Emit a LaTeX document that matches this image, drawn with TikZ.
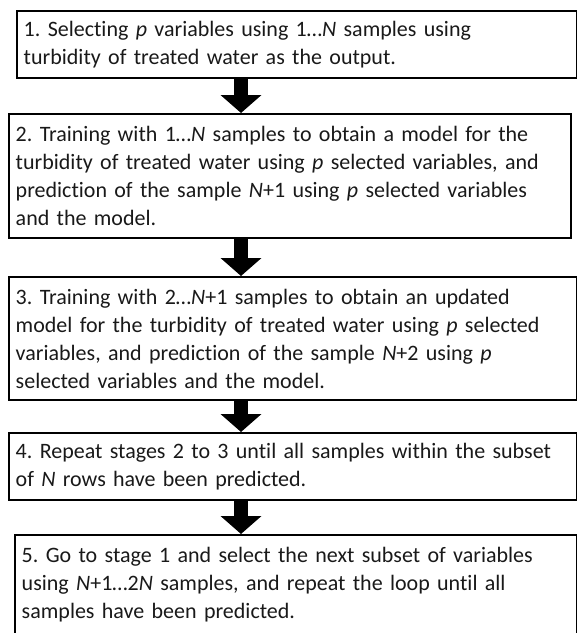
\documentclass[tikz,border=0pt]{standalone}
\usepackage{fontspec}
\setmainfont{Carlito}[Ligatures={NoCommon}]
\usetikzlibrary{arrows.meta, positioning}
\frenchspacing
\tikzset{
  stagebox/.style={draw=black, line width=1.6pt, anchor=north west, align=left,
    inner xsep=5pt, inner ysep=0pt, text=black!90,
    font=\fontsize{16.5}{21}\selectfont},
  downarrow/.style={line width=10.5pt, -{Triangle[length=13.5pt, width=30pt]}}
}

\begin{document}
\begin{tikzpicture}[x=0.75pt, y=-0.75pt]
  \useasboundingbox (0,0) rectangle (577,633);
  \coordinate (ax) at (241,0);
  \node[stagebox, text width=410pt, minimum height=50.25pt] (stage1) at (16,10)
    {1. Selecting \textit{p} variables using 1…\textit{N} samples using\\
     turbidity of treated water as the output.};
  \node[stagebox, text width=411.5pt, minimum height=93pt] (stage2) at (8,113)
    {2. Training with 1…\textit{N} samples to obtain a model for the\\
     turbidity of treated water using \textit{p} selected variables, and\\
     prediction of the sample \textit{N}+1 using \textit{p} selected variables\\
     and the model.};
  \node[stagebox, text width=416pt, minimum height=92.25pt] (stage3) at (8,276)
    {3. Training with 2…\textit{N}+1 samples to obtain an updated\\
     model for the turbidity of treated water using \textit{p} selected\\
     variables, and prediction of the sample \textit{N}+2 using \textit{p}\\
     selected variables and the model.};
  \node[stagebox, text width=416pt, minimum height=50.25pt] (stage4) at (8,432)
    {4. Repeat stages 2 to 3 until all samples within the subset\\
     of \textit{N} rows have been predicted.};
  \node[stagebox, text width=411.5pt, minimum height=75pt] (stage5) at (14,534)
    {5. Go to stage 1 and select the next subset of variables\\
     using \textit{N}+1…2\textit{N} samples, and repeat the loop until all\\
     samples have been predicted.};
  \draw[downarrow] (stage1.south -| ax) -- (stage2.north -| ax);
  \draw[downarrow] (stage2.south -| ax) -- (stage3.north -| ax);
  \draw[downarrow] (stage3.south -| ax) -- (stage4.north -| ax);
  \draw[downarrow] (stage4.south -| ax) -- (stage5.north -| ax);
\end{tikzpicture}
\end{document}
